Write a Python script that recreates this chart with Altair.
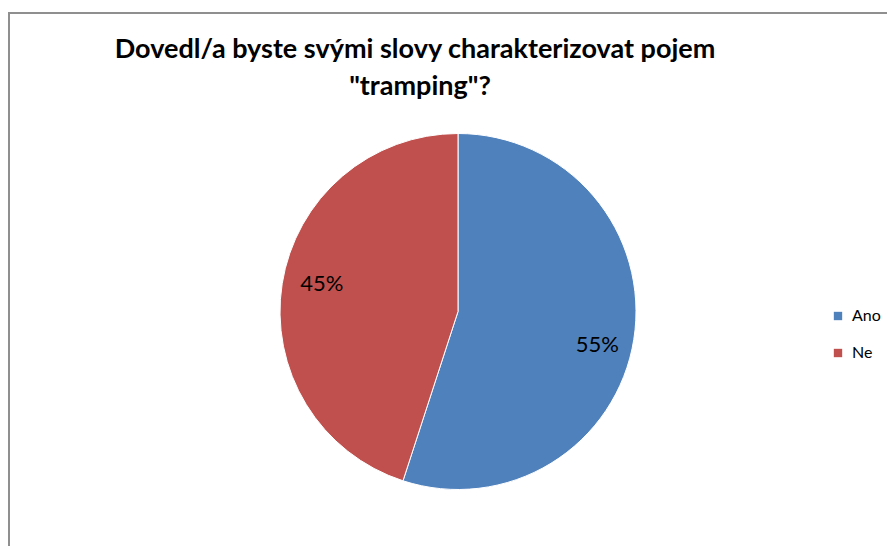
import altair as alt
import pandas as pd

categories = ["Ano", "Ne"]
values = [55, 45]
labels = ["55%", "45%"]
colors = ["#4F81BD", "#C0504D"]
title_lines = ["Dovedl/a byste svými slovy charakterizovat pojem", "\"tramping\"?"]

df = pd.DataFrame({"cat": categories, "val": values, "lab": labels, "ord": [0, 1]})

FONT = "Lato"
CX, CY, R = 450, 303.5, 178
W, H = 879, 538

base = alt.Chart(df).encode(
    theta=alt.Theta("val:Q", stack=True),
    order=alt.Order("ord:Q"),
)

pie = base.mark_arc(radius=R, stroke="white", strokeWidth=1).encode(
    x=alt.value(CX), y=alt.value(CY),
    color=alt.Color("cat:N", scale=alt.Scale(domain=categories, range=colors),
                    legend=alt.Legend(title=None, orient="none", legendX=822, legendY=300,
                                      symbolType="square", symbolSize=70, symbolStrokeWidth=0,
                                      labelFont=FONT, labelFontSize=16, labelColor="#000",
                                      rowPadding=21, labelOffset=6)),
)

txt_a = base.mark_text(radius=141, font=FONT, fontSize=22, color="#000", dy=11).encode(
    x=alt.value(CX), y=alt.value(CY), text="lab:N",
    opacity=alt.condition(alt.datum.cat == categories[0], alt.value(1), alt.value(0)),
)
txt_b = base.mark_text(radius=141, font=FONT, fontSize=22, color="#000", dy=-5, dx=3).encode(
    x=alt.value(CX), y=alt.value(CY), text="lab:N",
    opacity=alt.condition(alt.datum.cat == categories[1], alt.value(1), alt.value(0)),
)

t1 = alt.Chart(pd.DataFrame({"t": [title_lines[0]]})).mark_text(
    font=FONT, fontSize=27, fontWeight="bold", baseline="alphabetic", color="#000"
).encode(x=alt.value(407), y=alt.value(49.5), text="t:N")
t2 = alt.Chart(pd.DataFrame({"t": [title_lines[1]]})).mark_text(
    font=FONT, fontSize=27, fontWeight="bold", baseline="alphabetic", color="#000"
).encode(x=alt.value(412), y=alt.value(86.5), text="t:N")

border_top = alt.Chart(df).mark_rule(color="#8f8f8f", strokeWidth=2).encode(
    x=alt.value(0), x2=alt.value(W), y=alt.value(5)
)
border_left = alt.Chart(df).mark_rule(color="#8f8f8f", strokeWidth=2).encode(
    x=alt.value(1), y=alt.value(4), y2=alt.value(H)
)

chart = alt.layer(border_top, border_left, pie, txt_a, txt_b, t1, t2).properties(
    width=W, height=H, autosize=alt.AutoSizeParams(type="none"), padding=0
).configure_view(stroke=None)

chart.save("out.html", embed_options={"renderer": "svg", "actions": False})
